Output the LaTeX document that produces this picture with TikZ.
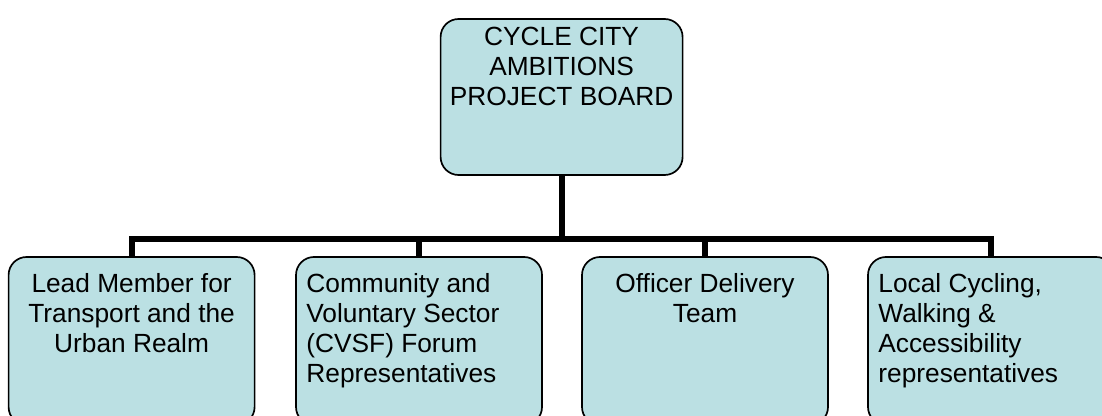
\documentclass[tikz,border=0pt]{standalone}
\usepackage{fontspec}
\setmainfont{Liberation Sans}
\definecolor{unitfill}{RGB}{187,224,227}
\begin{document}
\begin{tikzpicture}[
  unit/.style={draw, line width=1.2pt, fill=unitfill, rounded corners=0.45cm,
    inner xsep=0.1cm, inner ysep=0pt, font=\fontsize{18.7pt}{21.3pt}\selectfont},
  link/.style={line width=4.3pt}]
\useasboundingbox (0,0) rectangle (27.55,10.4);
\node[unit] (Board) at (14.04,7.975) {\parbox[c][3.9cm][t]{5.85cm}{\vspace*{0.2cm}\centering CYCLE CITY\\AMBITIONS\\PROJECT BOARD}};
\node[unit] (Lead) at (3.29,1.875) {\parbox[c][4.2cm][t]{5.95cm}{\vspace*{0.42cm}\centering Lead Member for\\Transport and the\\Urban Realm}};
\node[unit] (Forum) at (10.475,1.875) {\parbox[c][4.2cm][t]{5.95cm}{\vspace*{0.42cm}\leftskip=0.16cm Community and\\Voluntary Sector\\(CVSF) Forum\\Representatives}};
\node[unit] (Officer) at (17.625,1.875) {\parbox[c][4.2cm][t]{5.95cm}{\vspace*{0.42cm}\centering Officer Delivery\\Team}};
\node[unit] (Local) at (24.775,1.875) {\parbox[c][4.2cm][t]{5.95cm}{\vspace*{0.42cm}\leftskip=0.16cm Local Cycling,\\Walking \&\\Accessibility\\representatives}};
\coordinate (Bar) at (0,4.425);
\draw[link] (Board.south) -- (Board.south |- Bar) -| (Lead.north);
\draw[link] (Board.south |- Bar) -| (Forum.north);
\draw[link] (Board.south |- Bar) -| (Officer.north);
\draw[link] (Board.south |- Bar) -| (Local.north);
\end{tikzpicture}
\end{document}
